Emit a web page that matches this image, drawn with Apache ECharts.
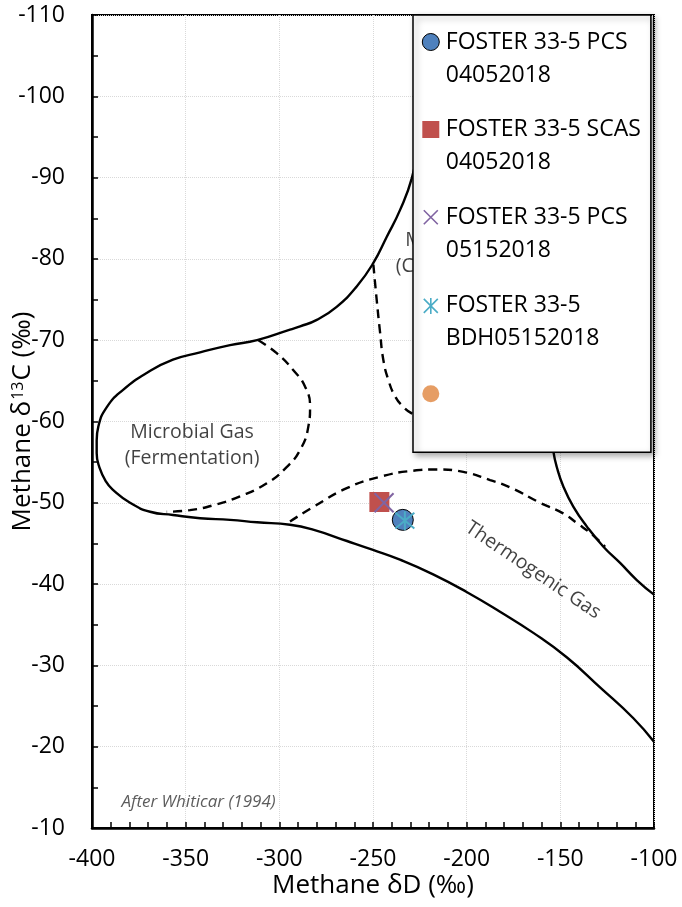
<!DOCTYPE html>
<html><head><meta charset="utf-8">
<script src="https://cdn.jsdelivr.net/npm/echarts@6/dist/echarts.min.js"></script>
<style>html,body{margin:0;padding:0;background:#fff}#c{width:682px;height:907px}</style>
</head><body><div id="c"></div>
<script>
// ---------- axes ----------
const xRange = [-400, -100];
const yRange = [-110, -10];
const xTickStep = 50;
const yTickStep = 10;

// ---------- Whiticar (1994) field boundaries ----------
const outerBoundary = [
  [-222.2,-97.1],[-229.3,-89.9],[-235.6,-86.0],[-242.7,-82.7],[-249.8,-79.5],[-258.7,-76.6],
  [-269.4,-74.1],[-280.0,-72.5],[-288.9,-71.7],[-294.3,-71.3],[-311.9,-70.0],[-326.3,-69.4],
  [-342.3,-68.5],[-356.8,-67.6],[-370.6,-66.0],[-383.4,-63.9],[-392.0,-61.8],[-396.6,-59.4],
  [-397.5,-57.7],[-397.5,-56.1],[-396.1,-54.4],[-392.5,-52.6],[-388.8,-51.6],[-379.7,-50.0],
  [-369.0,-48.9],[-356.8,-48.5],
  [-342.3,-48.1],[-326.3,-47.9],[-311.9,-47.6],[-294.3,-47.3],[-282.0,-46.7],[-263.9,-45.3],
  [-250.0,-44.2],[-235.6,-43.0],[-217.9,-41.2],[-199.8,-39.0],[-182.2,-36.6],[-164.4,-34.0],
  [-146.6,-31.0],[-128.8,-27.3],[-111.0,-23.5],[-100.0,-20.6]
];
const rightBoundary = [
  [-155.5,-62.6],[-154.9,-59.0],[-153.7,-56.3],[-151.9,-54.4],[-148.4,-52.0],[-143.0,-49.5],
  [-135.9,-47.1],[-127.0,-44.6],[-118.1,-42.6],[-109.2,-40.5],[-100.0,-38.7]
];
const fermentationDash = [
  [-311.2,-70.0],[-301.4,-68.4],[-292.5,-66.3],[-286.3,-64.3],[-283.6,-61.8],[-284.5,-59.4],
  [-288.9,-56.5],[-296.1,-54.4],[-306.7,-52.4],[-321.0,-50.8],[-335.2,-49.7],[-347.7,-49.1],
  [-360.1,-48.9]
];
const co2ReductionDash = [
  [-249.8,-79.3],[-248.0,-74.9],[-246.2,-70.9],[-244.5,-67.6],[-241.8,-65.1],[-238.2,-63.1],
  [-233.8,-61.8],[-229.3,-61.0],[-222.2,-60.2]
];
const thermogenicDash = [
  [-294.3,-47.7],[-281.8,-49.5],[-264.0,-51.8],[-246.2,-53.2],[-228.5,-53.95],[-216.0,-54.1],
  [-201.8,-53.8],[-187.5,-52.8],[-176.8,-51.9],[-160.8,-50.0],[-148.5,-48.7],[-141.1,-47.5],
  [-132.5,-46.0],[-126.1,-44.6]
];

// ---------- samples ----------
const seriesNames = [
  'FOSTER 33-5 PCS 04052018',
  'FOSTER 33-5 SCAS 04052018',
  'FOSTER 33-5 PCS 05152018',
  'FOSTER 33-5 BDH05152018',
  ' '
];
const pcs04052018 = [[-234.1,-47.9]];
const scas04052018 = [[-246.6,-50.1]];
const pcs05152018 = [[-244.1,-50.0]];
const bdh05152018 = [[-233.0,-47.8]];
const unnamedSeries = [];

// ---------- annotations ----------
const annotations = [
  {text: 'Microbial Gas\n(Fermentation)', at: [-346.6,-57.1], rotate: 0},
  {text: 'Microbial Gas\n(CO\u2082 Reduction)', at: [-199.8,-80.7], rotate: 0},
  {text: 'Thermogenic Gas', at: [-164.6,-41.7], rotate: -34}
];
const credit = {text: 'After Whiticar (1994)', at: [-343.1,-13.2]};

const FONT = "'Open Sans', sans-serif";
const colors = ['#4F81BD', '#C0504D', '#8064A2', '#4BACC6', '#E0853D'];

const ext = 'M0 0L0 0M20 66L20 66';
const icons = [
  'path://' + ext + 'M1.5 16.5A8.5 8.5 0 1 1 18.5 16.5A8.5 8.5 0 1 1 1.5 16.5Z',
  'path://' + ext + 'M1.5 8H18.5V25H1.5Z',
  'path://' + ext + 'M3 9.5L17 23.5M17 9.5L3 23.5',
  'path://' + ext + 'M3 9.5L17 23.5M17 9.5L3 23.5M10 8.5L10 24.5',
  'path://' + ext + 'M1.5 16.5A8.5 8.5 0 1 1 18.5 16.5A8.5 8.5 0 1 1 1.5 16.5Z'
];
const legendStyles = [
  {color: colors[0], borderColor: '#000', borderWidth: 1},
  {color: colors[1], borderColor: colors[1], borderWidth: 0},
  {color: 'transparent', borderColor: colors[2], borderWidth: 1.6},
  {color: 'transparent', borderColor: colors[3], borderWidth: 1.6},
  {color: colors[4], borderColor: colors[4], borderWidth: 0}
];

function curve(name, data, dashed) {
  return {
    name, type: 'line', data, smooth: true, symbol: 'none', silent: true, z: 2,
    lineStyle: {color: '#000', width: 2.4, type: dashed ? [9, 6] : 'solid'}
  };
}

const chart = echarts.init(document.getElementById('c'), null, {renderer: 'canvas'});
const option = {
  animation: false,
  backgroundColor: '#fff',
  grid: {left: 92, right: 28, top: 15, bottom: 79, show: true, borderColor: '#000', borderWidth: 2,
    containLabel: false, outerBoundsMode: 'none'},
  xAxis: {
    type: 'value', min: xRange[0], max: xRange[1], interval: xTickStep,
    name: 'Methane \u03b4D (\u2030)', nameLocation: 'middle', nameGap: 45, nameMoveOverlap: false,
    nameTextStyle: {fontFamily: FONT, fontSize: 26, color: '#000'},
    axisLine: {show: true, onZero: false, lineStyle: {color: '#000', width: 2.5}},
    axisTick: {show: true, inside: true, length: 6, lineStyle: {color: '#000', width: 1.5}},
    minorTick: {show: true, splitNumber: 5, length: 6, lineStyle: {color: '#000', width: 1.5}},
    axisLabel: {fontFamily: FONT, fontSize: 23, color: '#000', margin: 20},
    splitLine: {show: true, lineStyle: {color: '#d9d9d9', type: 'dotted', width: 1}}
  },
  yAxis: {
    type: 'value', inverse: true, min: yRange[0], max: yRange[1], interval: yTickStep,
    name: 'Methane \u03b4{sup|13}C (\u2030)', nameLocation: 'middle', nameGap: 56, nameMoveOverlap: false,
    nameTextStyle: {fontFamily: FONT, fontSize: 26, color: '#000',
      rich: {sup: {fontFamily: FONT, fontSize: 16, color: '#000', verticalAlign: 'top', padding: [0, 1, 0, 1]}}},
    axisLine: {show: true, onZero: false, lineStyle: {color: '#000', width: 2.5}},
    axisTick: {show: true, inside: true, length: 6, lineStyle: {color: '#000', width: 1.5}},
    minorTick: {show: true, splitNumber: 2, length: 6, lineStyle: {color: '#000', width: 1.5}},
    axisLabel: {fontFamily: FONT, fontSize: 23, color: '#000', margin: 27},
    splitLine: {show: true, lineStyle: {color: '#d9d9d9', type: 'dotted', width: 1}}
  },
  legend: {
    orient: 'vertical', left: 413, top: 15,
    padding: [10, 10, 9, 7],
    itemWidth: 20, itemHeight: 66, itemGap: 21,
    backgroundColor: '#fff', borderColor: '#000', borderWidth: 1.5,
    shadowColor: 'rgba(0,0,0,0.35)', shadowBlur: 6, shadowOffsetX: 3, shadowOffsetY: 3,
    textStyle: {fontFamily: FONT, fontSize: 23, lineHeight: 33, color: '#000'},
    formatter: n => { const i = n.lastIndexOf(' '); return n.slice(0, i) + '\n' + n.slice(i + 1); },
    selectedMode: false,
    z: 10,
    data: seriesNames.map((n, i) => ({name: n, icon: icons[i], itemStyle: legendStyles[i]}))
  },
  series: [
    curve('outer', outerBoundary, false),
    curve('right', rightBoundary, false),
    curve('fermentation', fermentationDash, true),
    curve('co2', co2ReductionDash, true),
    curve('thermo', thermogenicDash, true),
    {
      type: 'scatter', name: 'annotations', silent: true, z: 1, symbolSize: 0,
      itemStyle: {color: 'transparent'},
      data: annotations.map(a => ({
        value: a.at, name: a.text,
        label: {show: true, position: 'inside', formatter: a.text, rotate: a.rotate,
          fontFamily: FONT, fontSize: 19.5, lineHeight: 26, color: '#111', align: 'center'}
      })).concat([{
        value: credit.at, name: credit.text,
        label: {show: true, position: 'inside', formatter: credit.text,
          fontFamily: FONT, fontSize: 17, fontStyle: 'italic', color: '#333'}
      }])
    },
    {name: seriesNames[0], type: 'scatter', z: 3, data: pcs04052018, symbol: 'circle', symbolSize: 21,
      itemStyle: {color: colors[0], borderColor: '#000', borderWidth: 1, opacity: 1}},
    {name: seriesNames[1], type: 'scatter', z: 3, data: scas04052018, symbol: 'rect', symbolSize: 20,
      itemStyle: {color: colors[1], opacity: 1}},
    {name: seriesNames[2], type: 'scatter', z: 3, data: pcs05152018, symbol: 'path://M0 0L10 10M10 0L0 10', symbolSize: 19,
      itemStyle: {color: 'transparent', borderColor: colors[2], borderWidth: 2, opacity: 1}},
    {name: seriesNames[3], type: 'scatter', z: 3, data: bdh05152018, symbol: 'path://M0 0L10 10M10 0L0 10M5 -1L5 11', symbolSize: 19,
      itemStyle: {color: 'transparent', borderColor: colors[3], borderWidth: 2, opacity: 1}},
    {name: seriesNames[4], type: 'scatter', z: 3, data: unnamedSeries, symbol: 'circle', symbolSize: 18,
      itemStyle: {color: colors[4]}}
  ]
};
chart.setOption(option);
</script>
</body></html>
